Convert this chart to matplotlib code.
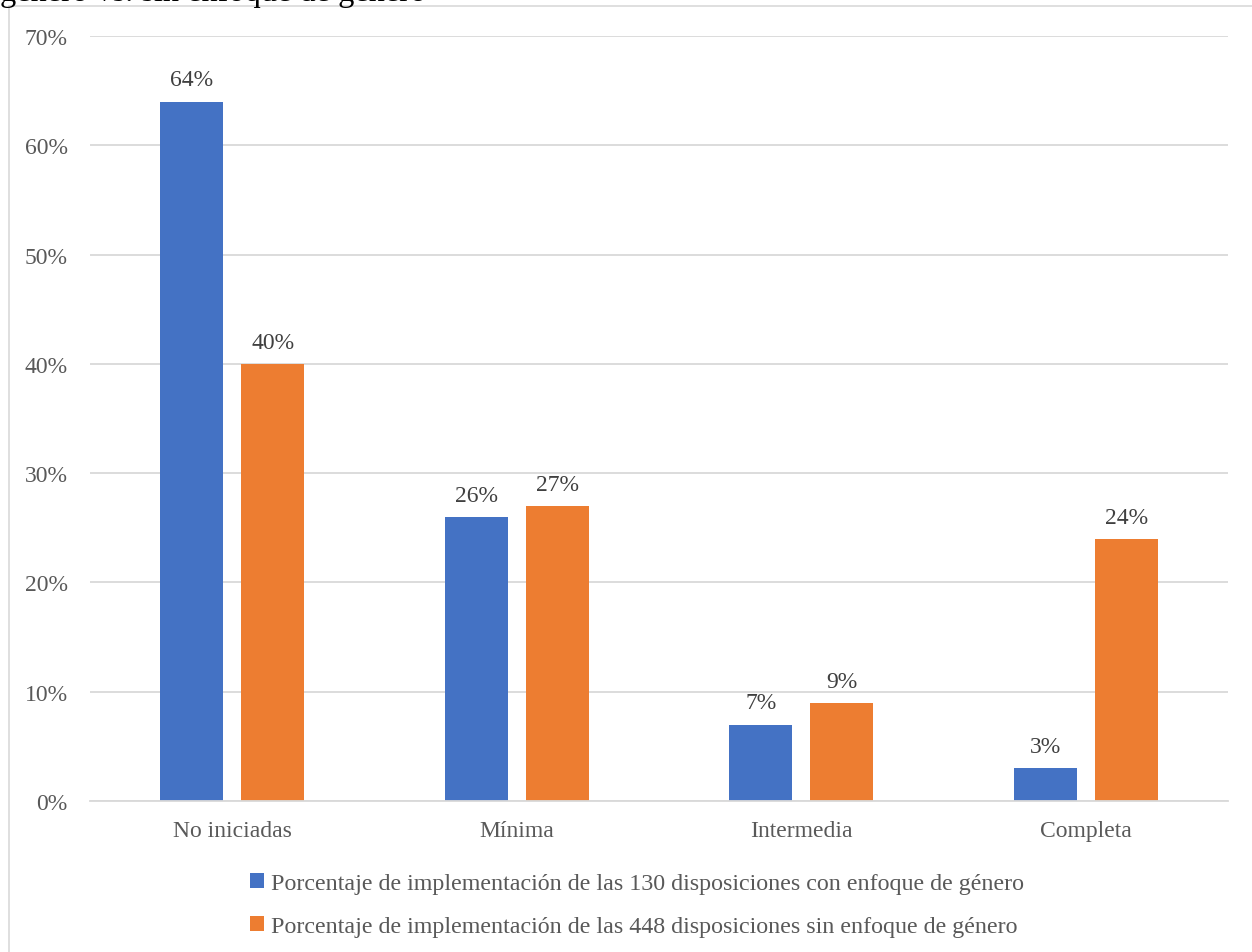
import matplotlib
matplotlib.use('Agg')
import matplotlib.pyplot as plt
import numpy as np
from matplotlib.patches import Rectangle

plt.rcParams['font.family'] = ['Liberation Serif', 'DejaVu Serif']

categories = ['No iniciadas', 'Mínima', 'Intermedia', 'Completa']
con_enfoque = [64, 26, 7, 3]
sin_enfoque = [40, 27, 9, 24]
series_names = [
    'Porcentaje de implementación de las 130 disposiciones con enfoque de género',
    'Porcentaje de implementación de las 448 disposiciones sin enfoque de género',
]
yticks = [0, 10, 20, 30, 40, 50, 60, 70]

BLUE = '#4472C4'
ORANGE = '#ED7D31'
TEXT = '#595959'
GRID = '#D9D9D9'

W, H = 1252, 953
fig = plt.figure(figsize=(W / 100, H / 100), dpi=100)

# chart frame (cut off at the top/right like the source)
fig.add_artist(Rectangle((9 / W, -0.1), 1.2, (H - 7) / H + 0.1,
                         transform=fig.transFigure, fill=False,
                         edgecolor=GRID, linewidth=1.2))

# title cut off at the top: only the lower part of the line shows
fig.text(0, 1 - 1 / H, 'género vs. sin enfoque de género', fontsize=23.3,
         color='black', ha='left', va='baseline')

ax = fig.add_axes([90 / W, 151 / H, 1138 / W, 765 / H])

x = np.arange(len(categories))
bw = 0.2215
off = 0.142
b1 = ax.bar(x - off, con_enfoque, bw, color=BLUE, label=series_names[0])
b2 = ax.bar(x + off, sin_enfoque, bw, color=ORANGE, label=series_names[1])

for bars, vals in ((b1, con_enfoque), (b2, sin_enfoque)):
    for rect, v in zip(bars, vals):
        ax.annotate(f'{v}%', (rect.get_x() + rect.get_width() / 2, v),
                    xytext=(0, 8), textcoords='offset points',
                    ha='center', va='bottom', fontsize=17, color='#404040')

ax.set_xlim(-0.5, len(categories) - 0.5)
ax.set_ylim(0, 70)
ax.set_yticks(yticks)
ax.set_yticklabels([f'{t}%' for t in yticks])
ax.set_xticks(x)
ax.set_xticklabels(categories)
ax.tick_params(axis='both', length=0, labelsize=17, labelcolor=TEXT)
ax.tick_params(axis='y', pad=16)
ax.tick_params(axis='x', pad=14)

ax.grid(axis='y', color=GRID, linewidth=1.3)
ax.set_axisbelow(True)
for s in ['top', 'right', 'left']:
    ax.spines[s].set_visible(False)
ax.spines['bottom'].set_color(GRID)
ax.spines['bottom'].set_linewidth(1.3)

leg = fig.legend(handles=[b1, b2], labels=series_names, loc='center',
                 bbox_to_anchor=(637 / W, 1 - 906 / H), frameon=False,
                 fontsize=17.3, handlelength=0.6, handleheight=0.6,
                 handletextpad=0.3, labelspacing=0.9, labelcolor=TEXT)

fig.savefig('out.png', dpi=100)
